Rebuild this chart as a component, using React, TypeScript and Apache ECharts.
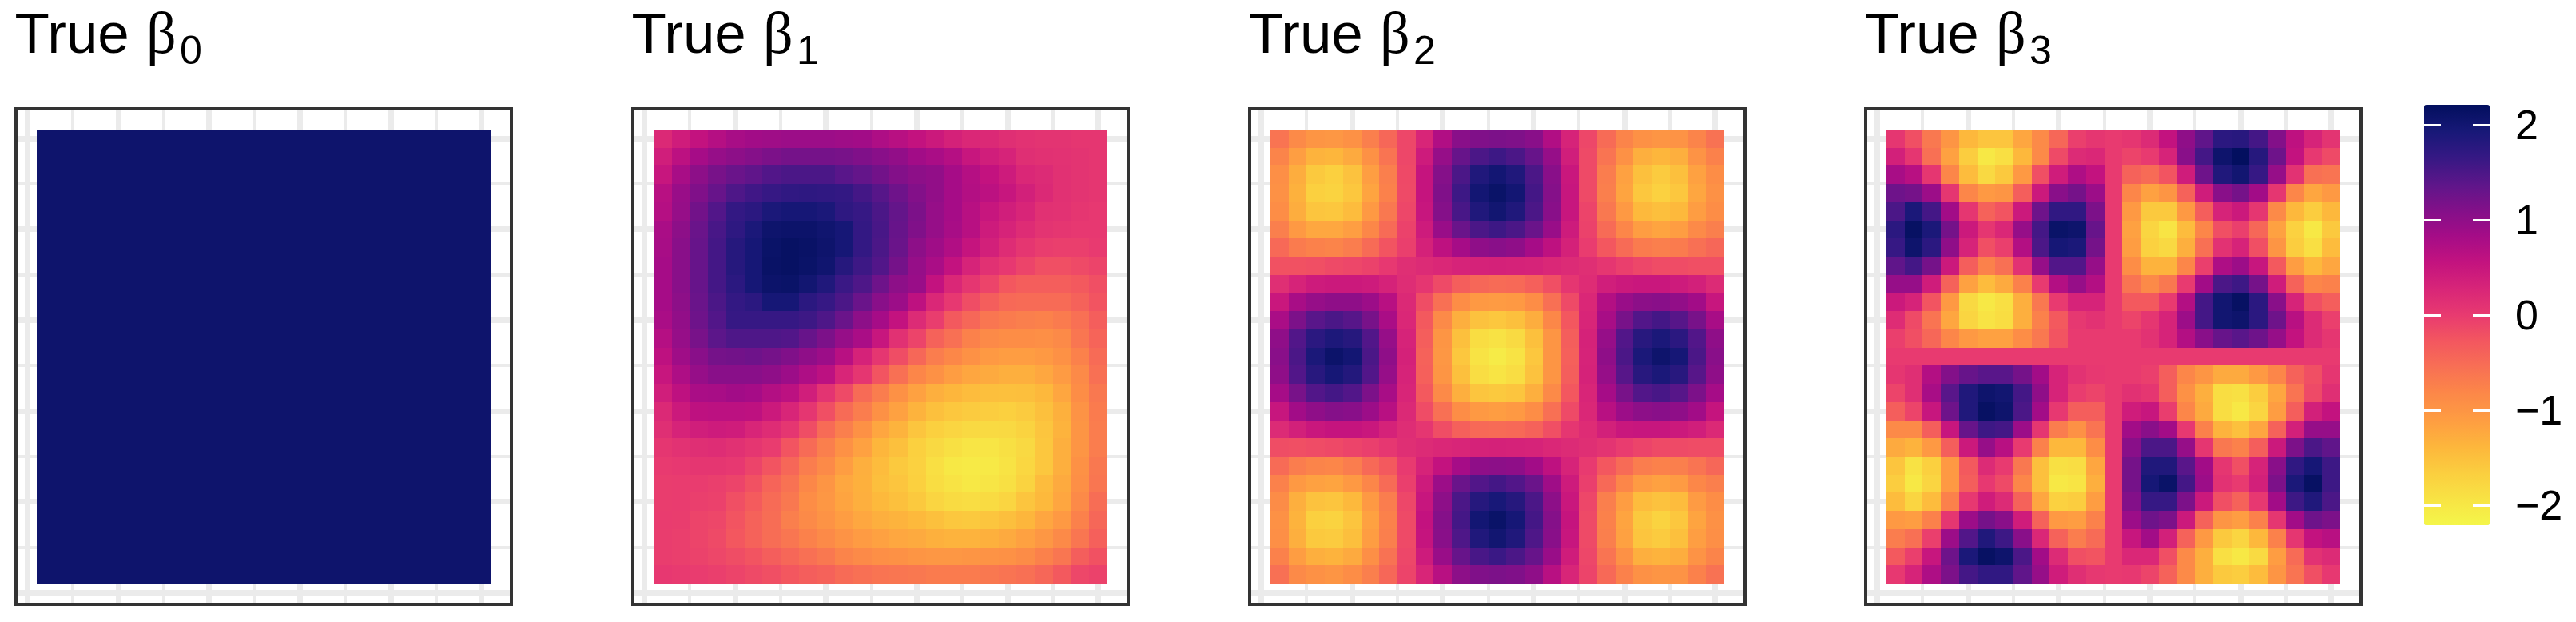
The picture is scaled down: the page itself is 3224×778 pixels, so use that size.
import React, { useEffect, useRef } from "react";
import * as echarts from "echarts";

const titles = ["0", "1", "2", "3"];
const legendTicks = [-2, -1, 0, 1, 2];
const gridMajor = [0, 5, 10, 15, 20, 25];
const gridMinor = [2.5, 7.5, 12.5, 17.5, 22.5];
const colorStops = ["#F4F64A", "#F8E344", "#FBCE3F", "#FDB63C", "#FE9D42", "#FC8848", "#F87054", "#F3575F", "#E83A70", "#D82578", "#C3127F", "#A50C87", "#821089", "#5C168A", "#351884", "#171877", "#020F5E"];

const b0Row = [2.05, 2.05, 2.05, 2.05, 2.05, 2.05, 2.05, 2.05, 2.05, 2.05, 2.05, 2.05, 2.05, 2.05, 2.05, 2.05, 2.05, 2.05, 2.05, 2.05, 2.05, 2.05, 2.05, 2.05, 2.05];
const beta0 = [b0Row, b0Row, b0Row, b0Row, b0Row, b0Row, b0Row, b0Row, b0Row, b0Row, b0Row, b0Row, b0Row, b0Row, b0Row, b0Row, b0Row, b0Row, b0Row, b0Row, b0Row, b0Row, b0Row, b0Row, b0Row];

const beta1 = [
  [.22,.4,.55,.68,.8,.85,.88,.9,.9,.9,.88,.85,.75,.65,.55,.45,.33,.25,.22,.15,.1,.08,.08,.05,.05],
  [.38,.62,.82,.95,1.02,1.08,1.15,1.2,1.2,1.2,1.18,1.12,1.05,.98,.85,.78,.68,.5,.38,.3,.15,.12,.1,.08,.05],
  [.5,.8,1.02,1.18,1.28,1.35,1.45,1.5,1.5,1.5,1.4,1.32,1.22,1.1,1.02,.98,.82,.68,.55,.42,.25,.2,.12,.08,.05],
  [.65,.92,1.12,1.3,1.48,1.58,1.65,1.7,1.72,1.7,1.68,1.55,1.42,1.25,1.1,.98,.82,.7,.62,.5,.35,.22,.12,.08,.05],
  [.68,.95,1.22,1.45,1.68,1.75,1.9,1.95,1.95,1.9,1.72,1.65,1.5,1.32,1.15,.95,.82,.65,.5,.38,.28,.12,.1,.05,.02],
  [.78,1.02,1.28,1.52,1.72,1.9,2.05,2.08,2.08,2.02,1.95,1.68,1.52,1.3,1.12,.95,.8,.65,.42,.3,.18,.08,.05,.02,.02],
  [.8,1.05,1.3,1.55,1.8,1.95,2.1,2.15,2.12,2.05,1.95,1.68,1.5,1.28,1.02,.88,.72,.52,.35,.18,.05,-.03,-.05,-.05,0],
  [.82,1.05,1.3,1.55,1.8,1.95,2.12,2.15,2.1,2.02,1.8,1.6,1.45,1.2,.95,.78,.55,.3,.12,.02,-.1,-.2,-.2,-.15,-.1],
  [.82,1.05,1.3,1.55,1.75,1.95,2.08,2.1,2,1.85,1.62,1.48,1.25,1.02,.92,.55,.25,.05,-.1,-.28,-.35,-.35,-.35,-.3,-.2],
  [.82,1.02,1.28,1.5,1.68,1.75,1.95,1.95,1.75,1.65,1.5,1.28,1.05,.9,.6,.25,.02,-.18,-.35,-.48,-.5,-.5,-.5,-.4,-.25],
  [.78,.98,1.25,1.45,1.65,1.65,1.65,1.65,1.6,1.48,1.28,1.02,.82,.55,.2,-.03,-.3,-.45,-.62,-.68,-.72,-.75,-.68,-.55,-.35],
  [.68,.95,1.18,1.38,1.48,1.48,1.48,1.45,1.3,1.15,.95,.78,.5,.12,-.1,-.4,-.55,-.75,-.85,-.9,-.9,-.92,-.85,-.62,-.42],
  [.6,.88,1.05,1.2,1.22,1.25,1.2,1.12,1,.9,.65,.32,.05,-.18,-.45,-.7,-.82,-.95,-1.05,-1.1,-1.1,-1.05,-.95,-.75,-.5],
  [.5,.75,.95,1.05,1.05,1.05,1,.9,.75,.62,.28,.05,-.25,-.55,-.8,-.95,-1.1,-1.2,-1.25,-1.3,-1.3,-1.22,-1.08,-.85,-.55],
  [.38,.6,.78,.8,.85,.82,.7,.62,.38,.08,-.15,-.5,-.7,-.95,-1.15,-1.3,-1.38,-1.45,-1.48,-1.5,-1.48,-1.4,-1.2,-.9,-.65],
  [.22,.45,.6,.62,.62,.6,.45,.28,.05,-.2,-.5,-.7,-.95,-1.15,-1.35,-1.5,-1.58,-1.62,-1.65,-1.68,-1.62,-1.5,-1.32,-.98,-.68],
  [.15,.3,.38,.42,.4,.28,.18,.05,-.18,-.5,-.72,-.95,-1.2,-1.35,-1.55,-1.68,-1.75,-1.8,-1.82,-1.8,-1.72,-1.55,-1.35,-1,-.7],
  [.05,.1,.15,.17,.12,.05,-.02,-.25,-.5,-.72,-.95,-1.15,-1.38,-1.5,-1.68,-1.8,-1.9,-1.96,-1.96,-1.9,-1.8,-1.58,-1.3,-1,-.7],
  [0,.02,.05,.05,.02,-.1,-.25,-.45,-.7,-.85,-1.1,-1.3,-1.45,-1.6,-1.7,-1.88,-2,-2.03,-2.02,-1.94,-1.78,-1.58,-1.3,-.95,-.65],
  [-.03,-.02,-.02,-.05,-.1,-.22,-.42,-.58,-.82,-1,-1.22,-1.32,-1.48,-1.55,-1.68,-1.85,-1.94,-2,-1.97,-1.9,-1.72,-1.45,-1.25,-.92,-.62],
  [-.03,-.02,-.05,-.07,-.2,-.32,-.5,-.65,-.9,-1.02,-1.18,-1.3,-1.42,-1.5,-1.6,-1.75,-1.83,-1.86,-1.83,-1.75,-1.55,-1.42,-1.2,-.85,-.52],
  [-.02,-.03,-.1,-.12,-.25,-.4,-.52,-.72,-.85,-.98,-1.1,-1.22,-1.3,-1.35,-1.42,-1.5,-1.58,-1.6,-1.55,-1.48,-1.38,-1.2,-1.05,-.75,-.45],
  [-.03,-.05,-.1,-.15,-.28,-.4,-.52,-.62,-.75,-.85,-.98,-1.08,-1.15,-1.22,-1.25,-1.32,-1.35,-1.35,-1.32,-1.25,-1.15,-1.02,-.85,-.62,-.38],
  [-.03,-.05,-.08,-.12,-.18,-.25,-.35,-.45,-.55,-.65,-.78,-.85,-.92,-.95,-1,-1.02,-1.02,-1,-.98,-.95,-.88,-.75,-.62,-.35,-.22],
  [.02,0,-.02,-.05,-.1,-.15,-.2,-.28,-.35,-.4,-.5,-.55,-.6,-.62,-.65,-.68,-.68,-.68,-.65,-.6,-.55,-.45,-.3,-.12,-.08],
];

const beta2 = [
  [-.6,-.85,-1,-1.02,-.95,-.72,-.45,-.12,.28,.72,1.05,1.12,1.15,1.13,1.05,.72,.3,-.12,-.5,-.78,-.95,-1,-.98,-.78,-.58],
  [-.78,-1.12,-1.35,-1.38,-1.25,-.95,-.6,-.12,.42,.95,1.3,1.5,1.6,1.5,1.3,.95,.38,-.15,-.6,-.95,-1.3,-1.38,-1.3,-.98,-.75],
  [-.92,-1.28,-1.6,-1.68,-1.52,-1.12,-.72,-.14,.52,1.08,1.5,1.85,1.98,1.85,1.5,1.05,.48,-.15,-.7,-1.15,-1.5,-1.62,-1.5,-1.15,-.9],
  [-.95,-1.33,-1.68,-1.72,-1.58,-1.18,-.75,-.15,.52,1.12,1.6,1.98,2.1,1.98,1.55,1.08,.5,-.15,-.72,-1.18,-1.58,-1.7,-1.58,-1.2,-.95],
  [-.9,-1.28,-1.55,-1.58,-1.45,-1.05,-.65,-.12,.5,1.08,1.52,1.85,2,1.85,1.5,1.05,.5,-.1,-.65,-1.05,-1.42,-1.48,-1.42,-1.1,-.9],
  [-.72,-1.05,-1.22,-1.22,-1.12,-.82,-.5,-.08,.42,.92,1.28,1.5,1.6,1.5,1.28,.92,.42,-.08,-.5,-.8,-1.1,-1.18,-1.1,-.85,-.72],
  [-.48,-.68,-.75,-.78,-.7,-.5,-.25,-.05,.33,.6,.82,1,1.05,1,.82,.6,.33,-.02,-.28,-.5,-.68,-.72,-.68,-.55,-.45],
  [-.22,-.22,-.2,-.15,-.12,-.08,.02,.15,.2,.25,.3,.32,.33,.32,.3,.25,.2,.15,.05,-.05,-.12,-.17,-.17,-.2,-.2],
  [.15,.3,.42,.45,.45,.42,.32,.17,.05,-.15,-.35,-.45,-.5,-.48,-.38,-.2,.05,.18,.38,.45,.48,.48,.42,.35,.2],
  [.48,.8,.95,1,1,.9,.65,.22,-.18,-.55,-.9,-1.05,-1.08,-1.05,-.9,-.55,-.15,.25,.7,.92,1.03,1.05,.98,.85,.5],
  [.78,1.15,1.4,1.5,1.42,1.18,.78,.25,-.3,-.85,-1.3,-1.52,-1.58,-1.5,-1.28,-.82,-.28,.28,.8,1.18,1.45,1.55,1.42,1.18,.8],
  [1,1.45,1.75,1.88,1.8,1.45,.95,.3,-.35,-1,-1.5,-1.85,-1.92,-1.82,-1.5,-1,-.35,.32,.95,1.45,1.78,1.9,1.75,1.45,1],
  [1.05,1.5,1.9,2.08,1.98,1.5,1,.33,-.4,-1.02,-1.58,-1.93,-2.05,-1.93,-1.58,-1,-.38,.3,1,1.5,1.9,2.05,1.95,1.5,1.05],
  [1,1.45,1.78,1.95,1.82,1.45,.95,.3,-.38,-1,-1.5,-1.86,-1.95,-1.86,-1.52,-1,-.35,.32,.95,1.42,1.78,1.9,1.78,1.42,1],
  [.82,1.18,1.45,1.55,1.45,1.15,.8,.28,-.3,-.85,-1.3,-1.55,-1.6,-1.55,-1.3,-.85,-.28,.28,.82,1.18,1.45,1.52,1.42,1.15,.82],
  [.5,.85,1,1.08,1.05,.9,.65,.22,-.17,-.55,-.9,-1.05,-1.1,-1.05,-.9,-.55,-.15,.25,.65,.9,1.02,1.05,1,.85,.52],
  [.2,.35,.48,.52,.52,.48,.32,.17,.05,-.18,-.38,-.48,-.5,-.48,-.4,-.2,.05,.18,.35,.48,.5,.5,.45,.38,.22],
  [-.18,-.2,-.17,-.14,-.1,-.05,.04,.15,.2,.25,.28,.32,.33,.32,.3,.25,.2,.15,.08,-.02,-.1,-.15,-.15,-.17,-.17],
  [-.5,-.7,-.78,-.8,-.7,-.48,-.3,0,.3,.55,.82,1,1.03,1,.85,.6,.3,0,-.28,-.5,-.7,-.75,-.72,-.6,-.45],
  [-.75,-1.05,-1.15,-1.18,-1.05,-.8,-.5,-.05,.42,.9,1.28,1.45,1.55,1.45,1.28,.88,.42,-.05,-.48,-.8,-1.08,-1.15,-1.08,-.82,-.72],
  [-.88,-1.3,-1.52,-1.55,-1.42,-1.05,-.7,-.12,.5,1.02,1.5,1.8,1.92,1.8,1.5,1.02,.48,-.12,-.72,-1.1,-1.45,-1.52,-1.45,-1.08,-.9],
  [-.95,-1.35,-1.68,-1.72,-1.55,-1.15,-.75,-.15,.55,1.08,1.55,1.98,2.1,1.95,1.55,1.08,.52,-.15,-.75,-1.18,-1.6,-1.72,-1.58,-1.18,-.95],
  [-.92,-1.3,-1.6,-1.62,-1.48,-1.1,-.72,-.15,.52,1.05,1.48,1.85,2,1.85,1.48,1.05,.5,-.15,-.72,-1.15,-1.55,-1.62,-1.5,-1.12,-.92],
  [-.75,-1.1,-1.3,-1.35,-1.25,-.92,-.58,-.12,.42,.92,1.3,1.52,1.62,1.5,1.3,.92,.4,-.12,-.6,-.95,-1.3,-1.35,-1.28,-.98,-.78],
  [-.55,-.85,-.95,-1,-.9,-.72,-.45,-.1,.28,.65,1.02,1.12,1.15,1.12,1,.65,.28,-.1,-.48,-.75,-.95,-1,-.98,-.75,-.58],
];

const beta3 = [
  [.05,-.2,-.65,-1,-1.4,-1.55,-1.55,-1.2,-.85,-.45,-.05,.05,0,.05,.2,.55,1,1.35,1.75,1.78,1.55,1.1,.6,.3,.08],
  [.35,.05,-.55,-1.15,-1.65,-2,-1.88,-1.4,-.85,-.15,.2,.25,0,-.1,0,.3,1.05,1.55,2.05,2.2,1.8,1.25,.55,.02,-.15],
  [.8,.65,.05,-.8,-1.45,-1.8,-1.6,-1.05,-.2,.4,.75,.55,0,-.4,-.5,-.25,.4,1.25,1.85,2,1.65,.95,.1,-.55,-.6],
  [1.25,1.2,.9,.05,-.8,-1.05,-1,-.35,.45,1.05,1.2,.9,0,-.8,-1.15,-1,-.4,.4,1.05,1.2,.85,.05,-.8,-1.2,-1.05],
  [1.5,1.9,1.55,.85,.05,-.4,-.25,.45,1.25,1.7,1.7,1.15,0,-1.05,-1.6,-1.6,-1.05,-.35,.3,.45,.05,-.85,-1.4,-1.65,-1.4],
  [1.75,2.15,1.9,1.2,.45,.05,.25,.95,1.55,2.1,2.05,1.3,0,-1.15,-1.75,-1.95,-1.45,-.8,-.2,-.05,-.45,-1.15,-1.7,-2,-1.6],
  [1.65,2.05,1.75,1,.3,-.2,-.05,.7,1.5,1.95,1.9,1.2,0,-1.1,-1.7,-1.8,-1.3,-.55,.1,.3,-.2,-1,-1.65,-1.88,-1.45],
  [1.35,1.55,1.2,.45,-.35,-.75,-.55,.1,.95,1.45,1.45,.95,0,-.9,-1.35,-1.35,-.8,-.05,.75,.9,.5,-.3,-1.1,-1.4,-1.2],
  [.95,.95,.4,-.4,-1.15,-1.45,-1.25,-.75,0,.7,.95,.7,0,-.6,-.85,-.65,0,.85,1.5,1.6,1.2,.4,-.4,-.8,-.75],
  [.45,.3,-.25,-1.05,-1.8,-2,-1.88,-1.3,-.65,0,.3,.3,0,-.3,-.3,0,.7,1.55,2,2.15,1.75,1.05,.3,-.2,-.35],
  [.18,-.15,-.6,-1.2,-1.75,-1.93,-1.85,-1.3,-.75,-.3,.03,.1,0,-.1,.05,.3,.9,1.55,2,2.05,1.75,1.25,.65,.2,-.05],
  [-.05,-.2,-.45,-.8,-1.05,-1.15,-1.15,-.9,-.65,-.25,0,0,0,0,.1,.3,.7,1.05,1.3,1.4,1.25,.95,.55,.2,.05],
  [0,0,0,0,0,0,0,0,0,0,0,0,0,0,0,0,0,0,0,0,0,0,0,0,0],
  [.05,.15,.7,1.1,1.3,1.4,1.4,1.2,.85,.3,.1,.02,0,0,-.05,-.35,-.8,-1,-1.25,-1.25,-1.05,-.8,-.4,-.2,.05],
  [-.1,.15,.8,1.4,1.85,2.05,2,1.55,1,.3,-.02,-.1,0,.12,.05,-.35,-.95,-1.3,-1.85,-1.9,-1.65,-1.2,-.6,-.15,.15],
  [-.35,-.1,.5,1.25,1.85,2.15,2.05,1.5,.85,.02,-.35,-.35,0,.4,.5,-.03,-.8,-1.25,-1.85,-2,-1.75,-1.1,-.35,.35,.55],
  [-.85,-.85,-.35,.5,1.3,1.6,1.55,.9,.05,-.7,-.95,-.6,0,.85,1.05,.85,.02,-.75,-1.35,-1.5,-1.2,-.4,.35,.95,.95],
  [-1.25,-1.35,-1.05,-.35,.45,.95,.65,0,-.75,-1.4,-1.4,-.9,0,1.05,1.5,1.5,.95,.05,-.65,-.75,-.35,.45,1.15,1.5,1.35],
  [-1.55,-1.92,-1.68,-1.05,-.3,.2,0,-.65,-1.5,-1.9,-1.86,-1.2,0,1.2,1.85,1.85,1.4,.85,.05,-.2,.3,1.05,1.7,1.95,1.6],
  [-1.65,-2,-1.75,-1.05,-.35,.02,-.15,-.8,-1.5,-2,-1.95,-1.3,0,1.2,1.95,2.1,1.55,.9,.1,0,.35,1.15,1.9,2.15,1.6],
  [-1.45,-1.75,-1.45,-.75,.02,.4,.2,-.4,-1.2,-1.7,-1.65,-1.1,0,1.1,1.65,1.65,1.15,.45,-.2,-.4,.02,.85,1.6,1.85,1.5],
  [-1.05,-1.1,-.75,.05,.9,1.2,1.05,.4,-.4,-1.05,-1.1,-.75,0,.9,1.25,1.15,.45,-.4,-1,-1.1,-.75,.05,.85,1.25,1.15],
  [-.7,-.55,-.05,.9,1.45,1.85,1.6,1.05,.25,-.4,-.7,-.5,0,.5,.85,.35,-.4,-1.05,-1.6,-1.75,-1.4,-.75,.05,.55,.65],
  [-.3,-.05,.5,1.25,1.9,2.15,2.05,1.5,.85,.2,-.2,-.25,0,.25,.25,-.2,-.85,-1.3,-1.88,-2,-1.82,-1.1,-.5,.1,.2],
  [.02,.3,.75,1.15,1.55,1.7,1.7,1.35,.95,.4,.15,.03,0,.02,-.1,-.4,-.85,-1.3,-1.6,-1.65,-1.45,-1,-.6,-.2,.02],
];

const panels = [beta0, beta1, beta2, beta3];
const panelLefts = [18, 790, 1562, 2333];

export default function App() {
  const ref = useRef<HTMLDivElement>(null);
  useEffect(() => {
    const chart = echarts.init(ref.current!, undefined, { renderer: "svg" });
    const grids: any[] = [];
    const xAxes: any[] = [];
    const yAxes: any[] = [];
    const series: any[] = [];
    const graphic: any[] = [];
    const cellSeries: number[] = [];

    panels.forEach((rows, p) => {
      const left = panelLefts[p];
      grids.push({ left: left + 2, top: 136, width: 620, height: 620, show: true, backgroundColor: "#fff", borderColor: "#333333", borderWidth: 4 });
      xAxes.push({ gridIndex: p, type: "value", min: -0.644, max: 26.644, show: false });
      yAxes.push({ gridIndex: p, type: "value", min: -0.644, max: 26.644, show: false });

      const lineData: number[][] = [];
      gridMajor.forEach((v) => { lineData.push([0, v, 7]); lineData.push([1, v, 7]); });
      gridMinor.forEach((v) => { lineData.push([0, v, 4]); lineData.push([1, v, 4]); });
      series.push({
        type: "custom", xAxisIndex: p, yAxisIndex: p, silent: true, z: 1, data: lineData,
        renderItem: (_: any, api: any) => {
          const vertical = api.value(0) === 0;
          const v = api.value(1);
          const w = api.value(2);
          const a = vertical ? api.coord([v, -0.556]) : api.coord([-0.556, v]);
          const b = vertical ? api.coord([v, 26.556]) : api.coord([26.556, v]);
          const shape = vertical
            ? { x: Math.round(a[0] - w / 2), y: Math.round(b[1]), width: w, height: Math.round(a[1] - b[1]) }
            : { x: Math.round(a[0]), y: Math.round(a[1] - w / 2), width: Math.round(b[0] - a[0]), height: w };
          return { type: "rect", shape, style: { fill: "#EBEBEB" } };
        },
      });

      const cells: number[][] = [];
      rows.forEach((row, r) => row.forEach((val, c) => cells.push([c + 1, 25 - r, val])));
      cellSeries.push(series.length);
      series.push({
        type: "custom", xAxisIndex: p, yAxisIndex: p, silent: true, z: 2, data: cells,
        encode: { x: 0, y: 1 },
        renderItem: (_: any, api: any) => {
          const x = api.value(0);
          const y = api.value(1);
          const a = api.coord([x - 0.5, y + 0.5]);
          const b = api.coord([x + 0.5, y - 0.5]);
          const x0 = Math.round(a[0]);
          const y0 = Math.round(a[1]);
          return {
            type: "rect",
            shape: { x: x0, y: y0, width: Math.round(b[0]) - x0, height: Math.round(b[1]) - y0 },
            style: { fill: api.visual("color") },
          };
        },
      });

      graphic.push({ type: "text", x: left + 0.5, y: 6, style: { text: "True", font: '71px "Liberation Sans"', fill: "#000" } });
      graphic.push({ type: "text", x: left + 165, y: 4, style: { text: "β", font: '74px "Liberation Serif"', fill: "#000" } });
      graphic.push({ type: "text", x: left + 207, y: 38, style: { text: titles[p], font: '50px "Liberation Sans"', fill: "#000" } });
    });

    grids.push({ left: 3034, top: 131, width: 82, height: 526, show: false });
    xAxes.push({ gridIndex: 4, type: "value", min: 0, max: 1, show: false });
    const legendTick = { show: true, inside: true, length: 21, customValues: legendTicks, lineStyle: { color: "#fff", width: 3 } };
    yAxes.push({
      gridIndex: 4, type: "value", position: "left", min: -2.21, max: 2.21, z: 10,
      axisLine: { show: false }, splitLine: { show: false }, axisLabel: { show: false }, axisTick: legendTick,
    });
    yAxes.push({
      gridIndex: 4, type: "value", position: "right", min: -2.21, max: 2.21, z: 10,
      axisLine: { show: false }, splitLine: { show: false }, axisTick: legendTick,
      axisLabel: {
        show: true, customValues: legendTicks, margin: 32, align: "left", color: "#000", fontSize: 52, fontFamily: "Liberation Sans",
        formatter: (v: number) => (v < 0 ? "\u2212" + Math.abs(v) : String(v)),
      },
    });

    chart.setOption({
      animation: false,
      backgroundColor: "#fff",
      grid: grids,
      xAxis: xAxes,
      yAxis: yAxes,
      series,
      graphic,
      visualMap: {
        type: "continuous", seriesIndex: cellSeries, dimension: 2, min: -2.21, max: 2.21,
        inRange: { color: colorStops }, show: true, calculable: false, hoverLink: false,
        left: 3034, top: 131, itemWidth: 82, itemHeight: 526, padding: 0, showLabel: false,
        textStyle: { fontSize: 0 }, z: 4,
      },
    });
    return () => chart.dispose();
  }, []);
  return <div ref={ref} style={{ position: "absolute", left: 0, top: 0, width: 3224, height: 778 }} />;
}
